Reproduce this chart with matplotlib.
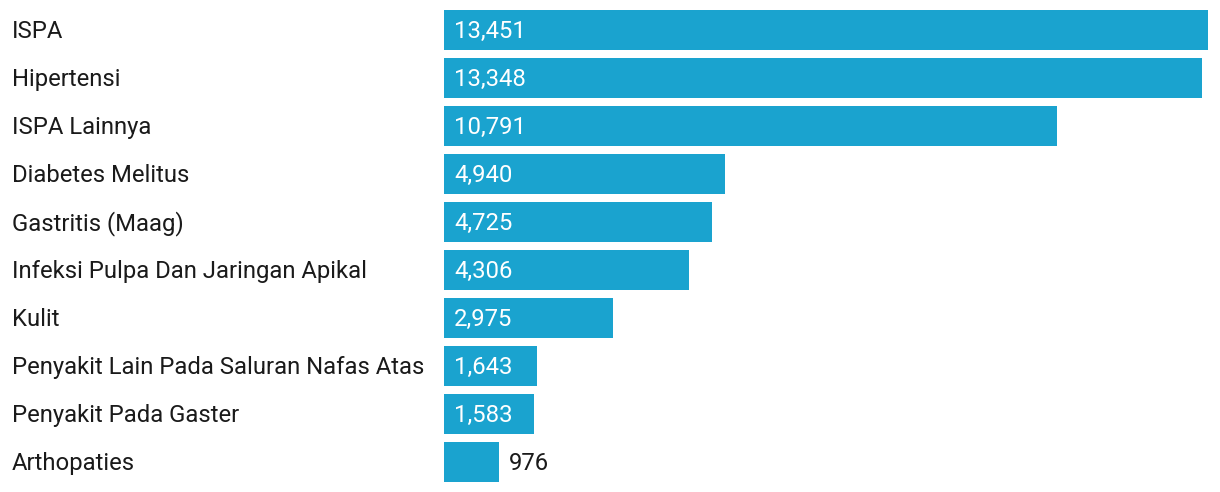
import matplotlib
matplotlib.use("Agg")
import matplotlib.pyplot as plt

categories = ["ISPA", "Hipertensi", "ISPA Lainnya", "Diabetes Melitus", "Gastritis (Maag)",
              "Infeksi Pulpa Dan Jaringan Apikal", "Kulit",
              "Penyakit Lain Pada Saluran Nafas Atas", "Penyakit Pada Gaster", "Arthopaties"]
values = [13451, 13348, 10791, 4940, 4725, 4306, 2975, 1643, 1583, 976]

bar_color = "#1aa3cf"
text_color = "#1a1a1a"
plt.rcParams["font.family"] = ["Roboto", "DejaVu Sans"]

W, H = 1220, 492
fig = plt.figure(figsize=(W / 100, H / 100), dpi=100)
ax = fig.add_axes([444 / W, 6 / H, 764 / W, 480 / H])

y = list(range(len(categories)))
ax.barh(y, values, height=40 / 48, color=bar_color)
ax.set_xlim(0, max(values))
ax.set_ylim(len(categories) - 0.5, -0.5)
ax.axis("off")

fs = 17.2
for i, (cat, v) in enumerate(zip(categories, values)):
    ax.annotate(cat, xy=(0, i), xycoords=("figure fraction", "data"),
                xytext=(12 * 0.72, -1), textcoords="offset points",
                ha="left", va="center", fontsize=fs, color=text_color)
    label = "{:,}".format(v)
    if v > 1200:
        ax.annotate(label, xy=(0, i), xytext=(10 * 0.72, -1), textcoords="offset points",
                    ha="left", va="center", fontsize=fs, color="white")
    else:
        ax.annotate(label, xy=(v, i), xytext=(9 * 0.72, -1), textcoords="offset points",
                    ha="left", va="center", fontsize=fs, color=text_color)

fig.savefig("out.png", dpi=100)
